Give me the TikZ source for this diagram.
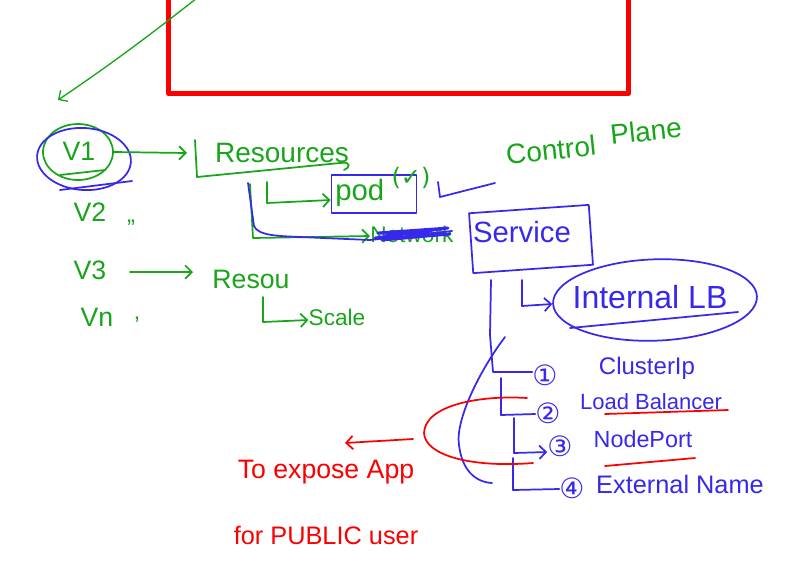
\documentclass[tikz,border=0pt]{standalone}
\usepackage{fontspec}
\setmainfont{Liberation Sans}
\newfontfamily\symf{DejaVu Sans}
\usetikzlibrary{arrows.meta,shapes.geometric}
\definecolor{hgreen}{RGB}{25,165,25}
\definecolor{hblue}{RGB}{55,40,235}
\definecolor{hred}{RGB}{250,0,0}
\begin{document}
\begin{tikzpicture}[x=0.75pt,y=-0.75pt, line cap=round, line join=round,
  gl/.style={draw=hgreen, line width=1.3pt},
  bl/.style={draw=hblue, line width=1.3pt},
  rl/.style={draw=hred, line width=1.3pt},
  tip/.style={-{Straight Barb[length=5pt,width=10pt]}},
  fs/.style={font=\fontsize{#1}{#1}\selectfont},
  gt/.style={text=hgreen, inner sep=0pt},
  bt/.style={text=hblue, inner sep=0pt},
  rt/.style={text=hred, inner sep=0pt},
]
\useasboundingbox (0,0) rectangle (799,562);

% red frame at top
\node[draw=hred, line width=3.75pt, minimum width=345pt, minimum height=90pt, inner sep=0pt, anchor=south west] (frame) at (166,96) {};

% green arrow from top
\coordinate (topstart) at (197,-2);
\coordinate (v1top) at (58,100);
\draw[gl, line width=1pt, tip] (topstart) .. controls (150,35) and (110,65) .. (v1top);

% V column
\node[gt, fs=20pt] (v1) at (79,151) {V1};
\node[draw=hgreen, line width=1.3pt, ellipse, minimum width=52.5pt, minimum height=42pt] (v1g) at (78,152) {};
\node[draw=hblue, line width=1.3pt, ellipse, minimum width=70.5pt, minimum height=46.5pt, rotate=-4] (v1b) at (84,159) {};
\draw[bl] (60,190) -- (132,181);
\draw[gl] (60,175) -- (105,170);

\node[gt, fs=20pt] (v2) at (90,212) {V2};
\node[gt, fs=18pt] (v2d) at (131,228) {"};
\node[gt, fs=20pt] (v3) at (90,270) {V3};
\node[gt, fs=20pt] (vn) at (97,317) {Vn};
\node[gt, fs=18pt] (vnd) at (137,325) {'};

% Resources
\coordinate (resbr) at (187,153);
\draw[gl, tip] (v1g.east) -- (resbr);
\node[gt, fs=21pt] (res) at (282,153) {Resources};
\coordinate (brtop) at (195,140);
\coordinate (brbot) at (197,177);
\coordinate (brend) at (340,163);
\draw[gl] (brtop) -- (brbot) -- (brend) .. controls (352,161) and (350,168) .. (344,170);

% pod
\node[draw=hblue, line width=1.3pt, minimum width=63.75pt, minimum height=28.5pt, inner sep=0pt] (podbox) at (374,194) {};
\node[gt, fs=22pt, anchor=west] (pod) at (335,193) {pod};
\node[gt, fs=18pt] (podok) at (411,178) {\symf(✓)};
\coordinate (podl1) at (267,182);
\coordinate (podl2) at (267,203);
\draw[gl, tip] (podl1) -- (podl2) -- (podbox.west |- 0,200);

% Network (crossed out)
\node[gt, fs=17pt, anchor=west] (net) at (370,234) {Network};
\coordinate (netl1) at (250,184);
\coordinate (netl2) at (253,238);
\draw[gl, tip] (netl1) -- (netl2) -- (net.west |- 0,236);
\draw[bl] (248,183) -- (254,226) .. controls (258,236) and (280,236) .. (300,237) -- (370,240) -- (452,231);
\draw[draw=hblue, line width=2.2pt] (375,238) -- (448,228) -- (378,233) -- (450,234) -- (382,240);

% pod to service
\coordinate (ps1) at (438,182);
\coordinate (ps2) at (440,197);
\coordinate (ps3) at (495,183);
\draw[bl] (ps1) -- (ps2) -- (ps3);

% Control Plane
\node[gt, fs=21pt, rotate=6] (cp1) at (551,150) {Control};
\node[gt, fs=21pt, rotate=6] (cp2) at (646,131) {Plane};

% Service
\node[draw=hblue, line width=1.3pt, minimum width=90pt, minimum height=45pt, inner sep=0pt, rotate=4] (svcbox) at (531,239) {};
\node[bt, fs=22pt] (svc) at (522,232) {Service};

% Internal LB
\node[draw=hblue, line width=1.3pt, ellipse, minimum width=153pt, minimum height=61pt, rotate=2] (ilbe) at (655,300) {};
\node[bt, fs=24pt] (ilb) at (650,297) {Internal LB};
\draw[bl] (570,328) -- (738,312);
\coordinate (il1) at (522,280);
\coordinate (il2) at (522,306);
\draw[bl, tip] (il1) -- (il2) -- (ilbe.west |- 0,304);

% service types
\node[bt, fs=21pt] (c1) at (545,375) {\symf ①};
\node[bt, fs=21pt] (c2) at (548,413) {\symf ②};
\node[bt, fs=21pt] (c3) at (560,446) {\symf ③};
\node[bt, fs=21pt] (c4) at (572,488) {\symf ④};
\node[bt, fs=18pt] (t1) at (647,368) {ClusterIp};
\node[bt, fs=16.5pt] (t2) at (651,402) {Load Balancer};
\node[bt, fs=17.5pt] (t3) at (643,439) {NodePort};
\node[bt, fs=19pt] (t4) at (680,484) {External Name};

\coordinate (s0) at (491,280);
\coordinate (s1) at (493,372);
\draw[bl] (s0) -- (490,335) -- (s1) -- (c1.west |- 0,372);
\coordinate (l2a) at (501,378);
\coordinate (l2b) at (501,415);
\draw[bl] (l2a) -- (l2b) -- (c2.west |- 0,414);
\coordinate (l3a) at (514,418);
\coordinate (l3b) at (514,453);
\draw[bl, tip] (l3a) -- (l3b) -- (c3.west |- 0,452);
\coordinate (l4a) at (513,458);
\coordinate (l4b) at (513,490);
\draw[bl] (l4a) -- (l4b) -- (c4.west |- 0,489);
\draw[bl] (505,337) .. controls (480,370) and (455,420) .. (459,445) .. controls (462,470) and (475,482) .. (492,483);

% red annotations
\draw[rl] (605,414) -- (728,410);
\draw[rl] (605,466) -- (695,458);
\coordinate (rc1) at (527,398);
\coordinate (rc2) at (533,463);
\coordinate (rmid) at (413,439);
\draw[rl] (rc1) .. controls (480,395) and (425,405) .. (424,433) .. controls (425,455) and (470,468) .. (rc2);
\coordinate (rtip) at (345,443);
\draw[rl, tip] (rmid) -- (rtip);
\node[rt, fs=20pt] (exp) at (326,472) {To expose App};
\node[rt, fs=19pt] (pub) at (326,535) {for PUBLIC user};

% V3 branch
\coordinate (v3a) at (130,272);
\coordinate (v3b) at (193,272);
\draw[gl, tip] (v3a) -- (v3b);
\node[gt, fs=20pt] (res2) at (251,279) {Resou};
\coordinate (sc1) at (263,297);
\coordinate (sc2) at (263,322);
\node[gt, fs=17pt] (scale) at (337,317) {Scale};
\draw[gl, tip] (sc1) -- (sc2) -- (scale.west |- 0,320);
\end{tikzpicture}
\end{document}
